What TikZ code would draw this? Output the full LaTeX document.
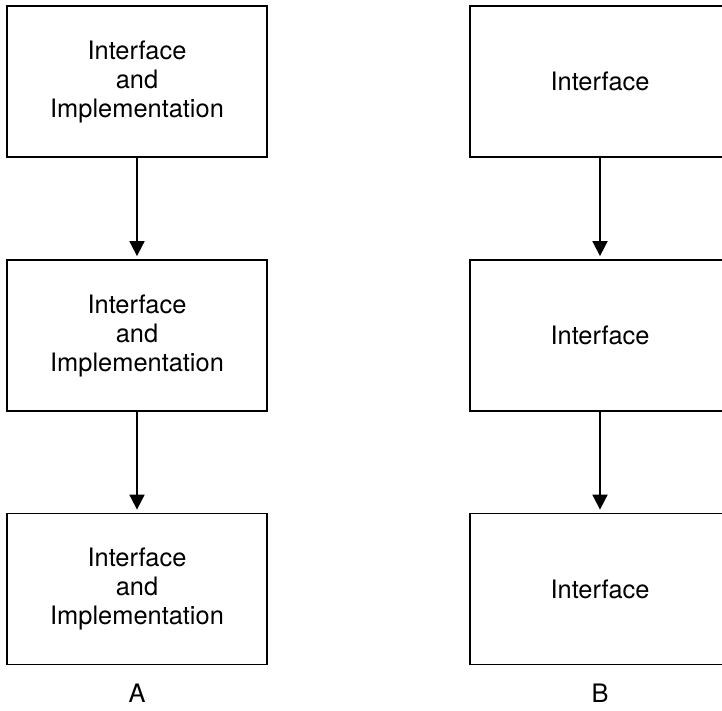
\documentclass[tikz,border=0pt]{standalone}
\usepackage{fontspec}
\setmainfont{TeX Gyre Heros}
\usetikzlibrary{arrows.meta}

\tikzstyle{module}=[draw,black,rectangle,line width=1.8pt,minimum width=260pt,minimum height=151pt,inner sep=0pt,align=center,font=\fontsize{25.4}{29}\selectfont]
\tikzstyle{uses}=[line width=1.8pt,-{Triangle[length=15pt,width=15pt]},shorten >=3pt]
\tikzstyle{caption}=[font=\fontsize{25.4}{29}\selectfont]

\begin{document}
\begin{tikzpicture}[x=1pt,y=1pt]
    \useasboundingbox (0,0) rectangle (722,-710);

    \node (a1)[module] at (137,-81.5) {Interface\\and\\Implementation};
    \node (a2)[module] at (137,-335.5) {Interface\\and\\Implementation};
    \node (a3)[module] at (137,-589) {Interface\\and\\Implementation};

    \node (b1)[module] at (600,-81.5) {Interface};
    \node (b2)[module] at (600,-335.5) {Interface};
    \node (b3)[module] at (600,-589) {Interface};

    \draw[uses] (a1) -- (a2);
    \draw[uses] (a2) -- (a3);
    \draw[uses] (b1) -- (b2);
    \draw[uses] (b2) -- (b3);

    \node (la)[caption] at (137,-693) {A};
    \node (lb)[caption] at (600,-693) {B};
\end{tikzpicture}
\end{document}
